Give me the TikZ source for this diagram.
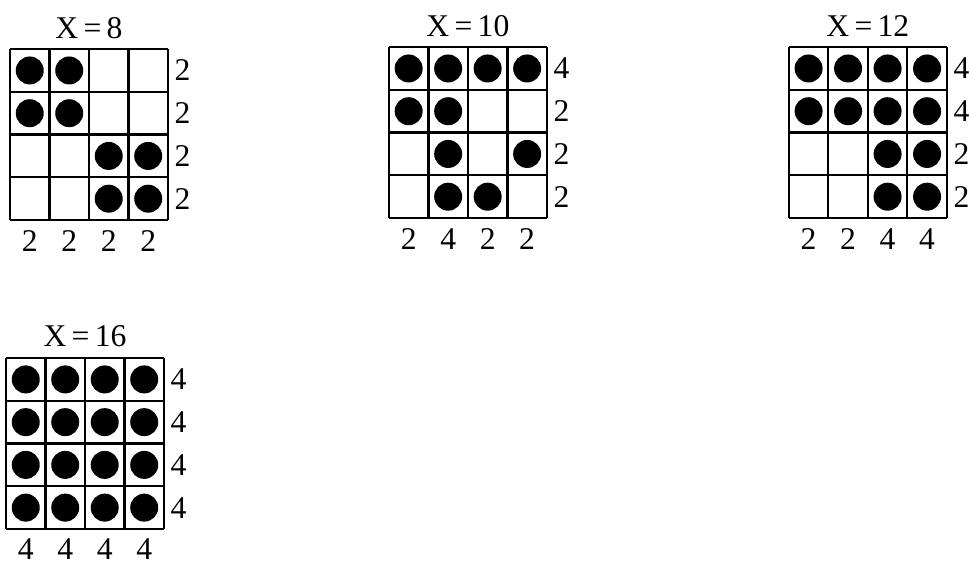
\documentclass[tikz,border=0pt]{standalone}
\usepackage{fontspec}
\setmainfont{Liberation Serif}
\usetikzlibrary{positioning}

\begin{document}
\begin{tikzpicture}[
	x=0.02cm,
	y=0.02cm,
	font=\fontsize{18}{21}\selectfont
	]
	
	\useasboundingbox (0,0) rectangle (969,565);
	
	% X = 8
	\begin{scope}[xshift=0.20cm,yshift=6.90cm,x=0.79cm,y=0.855cm]
		\foreach \k in {0,...,4} {
			\draw[line width=1.3pt] (\k,0) -- (\k,4);
			\draw[line width=1.3pt] (0,\k) -- (4,\k);
		}
		\foreach \c/\r in {1/1,2/1,1/2,2/2,3/3,4/3,3/4,4/4}
		\fill (\c-0.5,4.5-\r) circle[radius=0.28cm];
		\node (g1t) at (2,4.5) {X\,=\,8};
		\foreach \r/\v in {1/2,2/2,3/2,4/2}
		\node (g1r\r) at (4.37,4.5-\r) {\v};
		\foreach \c/\v in {1/2,2/2,3/2,4/2}
		\node (g1c\c) at (\c-0.5,-0.5) {\v};
	\end{scope}
	
	% X = 10
	\begin{scope}[xshift=7.78cm,yshift=6.94cm,x=0.79cm,y=0.855cm]
		\foreach \k in {0,...,4} {
			\draw[line width=1.3pt] (\k,0) -- (\k,4);
			\draw[line width=1.3pt] (0,\k) -- (4,\k);
		}
		\foreach \c/\r in {1/1,2/1,3/1,4/1,1/2,2/2,2/3,4/3,2/4,3/4}
		\fill (\c-0.5,4.5-\r) circle[radius=0.28cm];
		\node (g2t) at (2,4.5) {X\,=\,10};
		\foreach \r/\v in {1/4,2/2,3/2,4/2}
		\node (g2r\r) at (4.37,4.5-\r) {\v};
		\foreach \c/\v in {1/2,2/4,3/2,4/2}
		\node (g2c\c) at (\c-0.5,-0.5) {\v};
	\end{scope}
	
	% X = 12
	\begin{scope}[xshift=15.78cm,yshift=6.94cm,x=0.79cm,y=0.855cm]
		\foreach \k in {0,...,4} {
			\draw[line width=1.3pt] (\k,0) -- (\k,4);
			\draw[line width=1.3pt] (0,\k) -- (4,\k);
		}
		\foreach \c/\r in {1/1,2/1,3/1,4/1,1/2,2/2,3/2,4/2,3/3,4/3,3/4,4/4}
		\fill (\c-0.5,4.5-\r) circle[radius=0.28cm];
		\node (g3t) at (2,4.5) {X\,=\,12};
		\foreach \r/\v in {1/4,2/4,3/2,4/2}
		\node (g3r\r) at (4.37,4.5-\r) {\v};
		\foreach \c/\v in {1/2,2/2,3/4,4/4}
		\node (g3c\c) at (\c-0.5,-0.5) {\v};
	\end{scope}
	
	% X = 16
	\begin{scope}[xshift=0.12cm,yshift=0.72cm,x=0.79cm,y=0.855cm]
		\foreach \k in {0,...,4} {
			\draw[line width=1.3pt] (\k,0) -- (\k,4);
			\draw[line width=1.3pt] (0,\k) -- (4,\k);
		}
		\foreach \c in {1,...,4}
		\foreach \r in {1,...,4}
		\fill (\c-0.5,4.5-\r) circle[radius=0.28cm];
		\node (g4t) at (2,4.5) {X\,=\,16};
		\foreach \r/\v in {1/4,2/4,3/4,4/4}
		\node (g4r\r) at (4.37,4.5-\r) {\v};
		\foreach \c/\v in {1/4,2/4,3/4,4/4}
		\node (g4c\c) at (\c-0.5,-0.48) {\v};
	\end{scope}
	
\end{tikzpicture}
\end{document}
